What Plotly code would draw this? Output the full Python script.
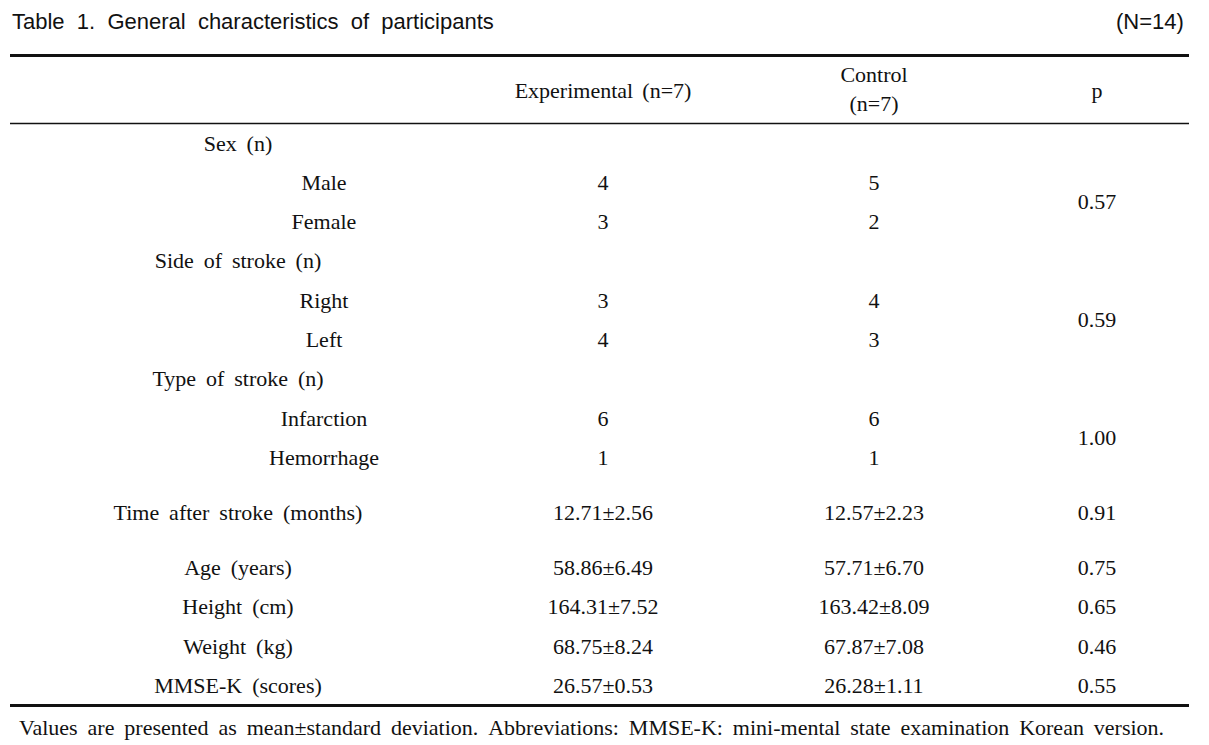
import plotly.graph_objects as go

# table content
title = "Table 1. General characteristics of participants"
total_n = "(N=14)"
col_headers = ["Experimental (n=7)", "Control<br>(n=7)", "p"]

labels = ["Sex (n)", "Male", "Female",
          "Side of stroke (n)", "Right", "Left",
          "Type of stroke (n)", "Infarction", "Hemorrhage",
          "Time after stroke (months)", "Age (years)", "Height (cm)",
          "Weight (kg)", "MMSE-K (scores)"]
is_sub = [0, 1, 1, 0, 1, 1, 0, 1, 1, 0, 0, 0, 0, 0]
experimental = ["", "4", "3", "", "3", "4", "", "6", "1",
                "12.71±2.56", "58.86±6.49", "164.31±7.52", "68.75±8.24", "26.57±0.53"]
control = ["", "5", "2", "", "4", "3", "", "6", "1",
           "12.57±2.23", "57.71±6.70", "163.42±8.09", "67.87±7.08", "26.28±1.11"]
# p for grouped rows (spans the two sub rows) then single rows
p_group = ["0.57", "0.59", "1.00"]
p_single = ["0.91", "0.75", "0.65", "0.46", "0.55"]

footnote = ("Values are presented as mean±standard deviation. Abbreviations: "
            "MMSE-K: mini-mental state examination Korean version.")

# ---- layout (pixel space, page has an 8px body margin) ----
W, H = 1209, 745
OFF = 8
X_GROUP, X_SUB, X_EXP, X_CTRL, X_P = 238, 324, 603, 874, 1097
ROW0, STEP = 145, 39.3
gaps = [0, 1, 1, 1, 1, 1, 1, 1, 1, 1.4, 1.4, 1, 1, 1]
SERIF = "Liberation Serif, Times New Roman, serif"
SANS = "Liberation Sans, Arial, sans-serif"
FS = 22


def wide(s, sp="\u00a0\u2009"):
	return s.replace(" ", sp)


row_y = []
y = ROW0
for g in gaps:
	y += g * STEP
	row_y.append(y)

label_x = [X_SUB if s else X_GROUP for s in is_sub]

p_text, p_y = [], []
gi = 0
for i in range(len(labels)):
	if i in (1, 4, 7):
		p_text.append(p_group[gi])
		p_y.append((row_y[i] + row_y[i + 1]) / 2)
		gi += 1
p_text += p_single
p_y += row_y[9:]

fig = go.Figure()
txt = dict(mode="text", hoverinfo="skip", showlegend=False,
		   textfont=dict(family=SERIF, size=FS, color="#111111"))
fig.add_trace(go.Scatter(x=label_x, y=row_y, text=[wide(l) for l in labels], **txt))
fig.add_trace(go.Scatter(x=[X_EXP] * len(row_y), y=row_y, text=experimental, **txt))
fig.add_trace(go.Scatter(x=[X_CTRL] * len(row_y), y=row_y, text=control, **txt))
fig.add_trace(go.Scatter(x=[X_P] * len(p_y), y=p_y, text=p_text, **txt))
fig.add_trace(go.Scatter(x=[X_EXP, X_CTRL, X_P], y=[92, 91, 92],
						 text=[wide(h, "\u00a0\u200a\u200a") for h in col_headers], **txt))

# rules
for yy, w in [(55.5, 3), (123.5, 1.3), (705.5, 3)]:
	fig.add_shape(type="line", x0=10, x1=1189, y0=yy, y1=yy,
				  line=dict(color="#111111", width=w))

fig.add_annotation(x=10, y=21, text=wide(title, "\u00a0\u00a0"), showarrow=False,
				   xanchor="left", yanchor="middle",
				   font=dict(family=SANS, size=22, color="#111111"))
fig.add_annotation(x=1186, y=21, text=total_n, showarrow=False,
				   xanchor="right", yanchor="middle",
				   font=dict(family=SANS, size=22, color="#111111"))
fig.add_annotation(x=17, y=727, text=wide(footnote), showarrow=False,
				   xanchor="left", yanchor="middle",
				   font=dict(family=SERIF, size=FS, color="#111111"))

fig.update_xaxes(range=[OFF, W + OFF], visible=False, fixedrange=True)
fig.update_yaxes(range=[H + OFF, OFF], visible=False, fixedrange=True)
fig.update_layout(width=W, height=H, margin=dict(l=0, r=0, t=0, b=0),
				  plot_bgcolor="white", paper_bgcolor="white")
fig.write_html("out.html")
